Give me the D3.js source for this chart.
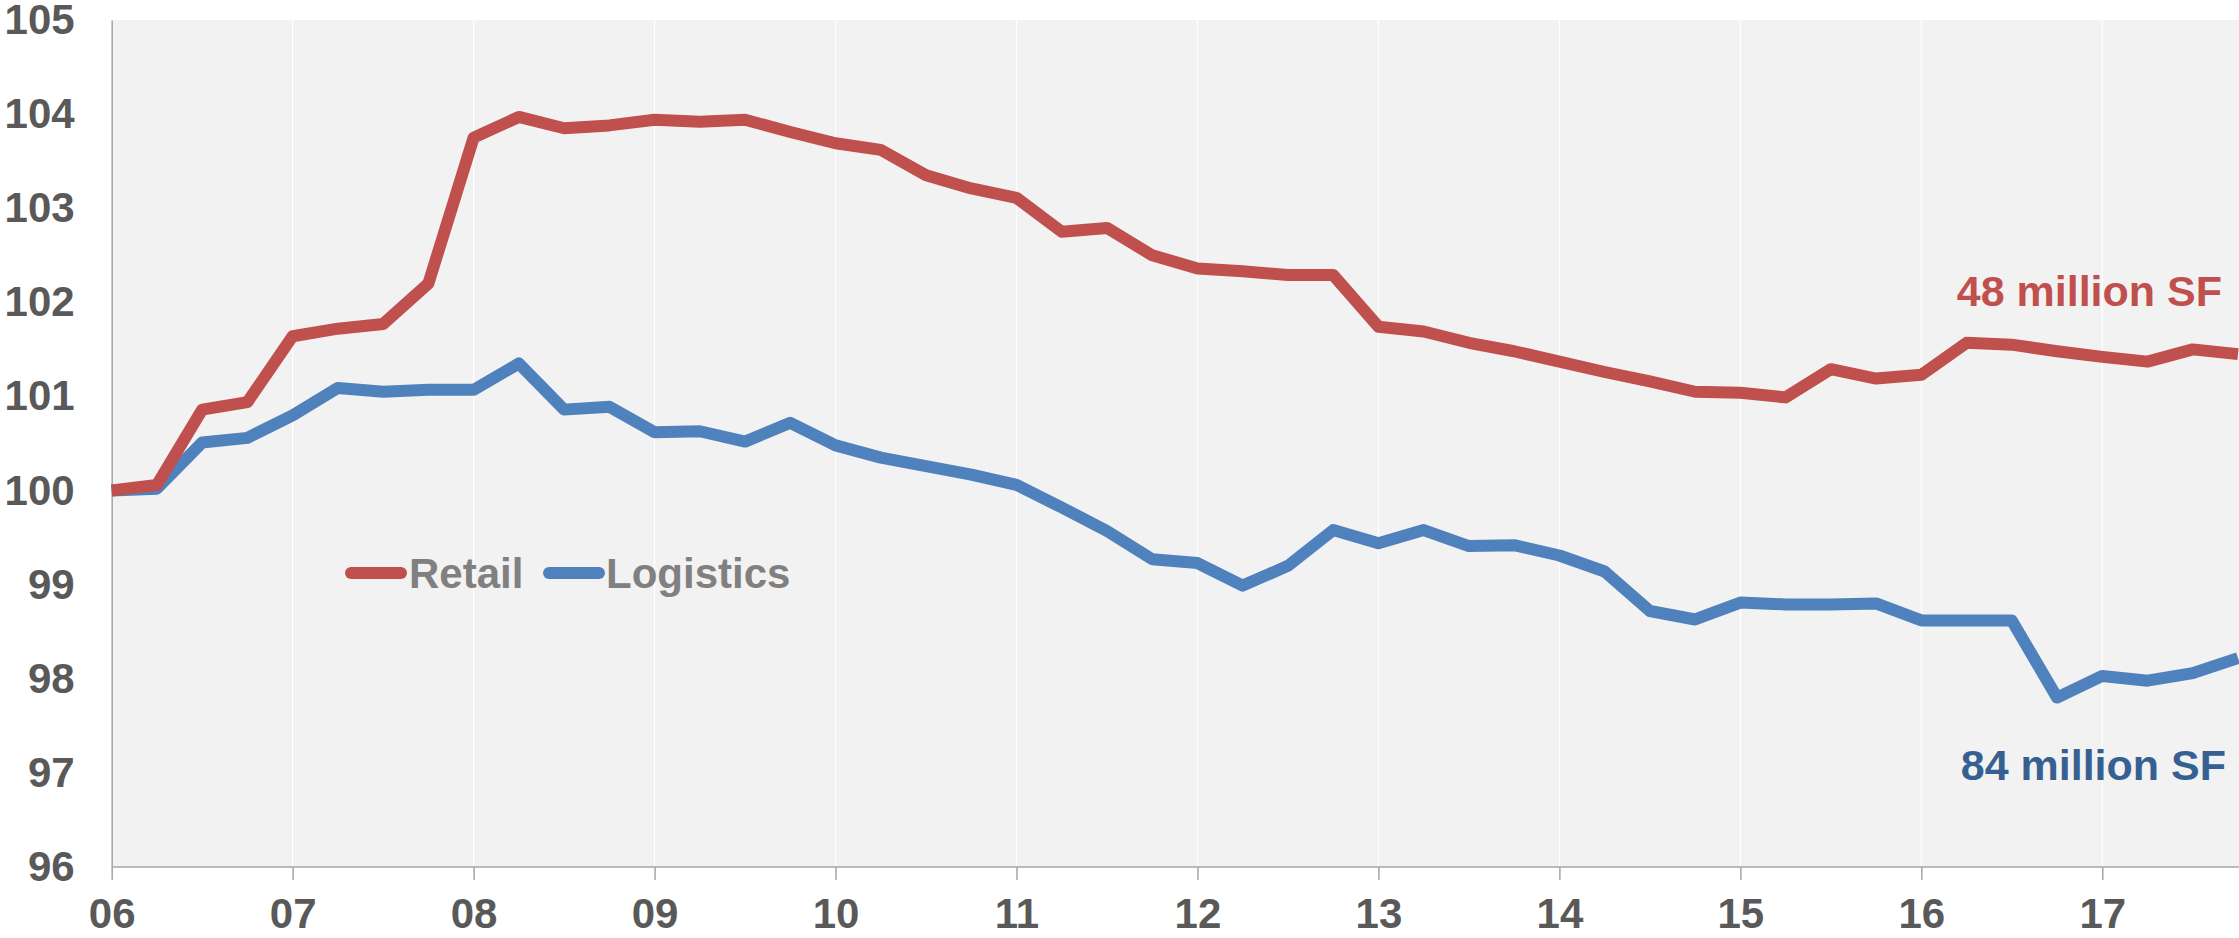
<!DOCTYPE html>
<html>
<head>
<meta charset="utf-8">
<script src="https://cdn.jsdelivr.net/npm/d3@7"></script>
<style>
  html, body { margin: 0; padding: 0; background: #fff; }
  svg { display: block; font-family: "Liberation Sans", Arial, sans-serif; font-weight: bold; }
</style>
</head>
<body>
<script>
// quarterly index, 2006 Q1 .. 2017 Q4
const startYear = 2006;
const yearLabels = ["06", "07", "08", "09", "10", "11", "12", "13", "14", "15", "16", "17"];
const yTicks = [96, 97, 98, 99, 100, 101, 102, 103, 104, 105];

const retail = [
  100.00, 100.06, 100.86, 100.94, 101.64, 101.72, 101.77, 102.20,
  103.75, 103.97, 103.85, 103.88, 103.94, 103.92, 103.94, 103.81,
  103.69, 103.62, 103.35, 103.21, 103.11, 102.75, 102.79, 102.50,
  102.36, 102.33, 102.29, 102.29, 101.74, 101.69, 101.57, 101.48,
  101.37, 101.26, 101.16, 101.05, 101.04, 100.99, 101.29, 101.19,
  101.23, 101.57, 101.55, 101.48, 101.42, 101.37, 101.50, 101.45
];
const logistics = [
  100.00, 100.02, 100.51, 100.56, 100.80, 101.09, 101.05, 101.07,
  101.07, 101.35, 100.86, 100.89, 100.62, 100.63, 100.52, 100.72,
  100.48, 100.35, 100.26, 100.17, 100.06, 99.82, 99.57, 99.27,
  99.23, 98.99, 99.20, 99.58, 99.44, 99.58, 99.41, 99.42,
  99.31, 99.14, 98.72, 98.63, 98.81, 98.79, 98.79, 98.80,
  98.62, 98.62, 98.62, 97.80, 98.03, 97.98, 98.06, 98.22
];

const W = 2239, H = 938;
const plotLeft = 111.7, plotTop = 20, plotRight = 2238, plotBottom = 867;

const svg = d3.select("body").append("svg")
    .attr("width", W)
    .attr("height", H);

const x = d3.scaleLinear()
    .domain([startYear, startYear + (retail.length - 1) / 4])
    .range([plotLeft, plotRight]);

const y = d3.scaleLinear()
    .domain([96, 105])
    .range([plotBottom, plotTop]);

// plot background
svg.append("rect")
    .attr("x", plotLeft).attr("y", plotTop)
    .attr("width", W - plotLeft).attr("height", plotBottom - plotTop)
    .attr("fill", "#f2f2f2");

// vertical white gridlines
const yearVals = yearLabels.map((_, i) => startYear + i);
svg.append("g").selectAll("line")
    .data(yearVals.slice(1))
    .join("line")
    .attr("x1", d => x(d)).attr("x2", d => x(d))
    .attr("y1", plotTop).attr("y2", plotBottom)
    .attr("stroke", "#fff")
    .attr("stroke-width", 1.2);

// x axis
const xAxis = svg.append("g")
    .attr("transform", `translate(0,${plotBottom})`)
    .call(d3.axisBottom(x)
        .tickValues(yearVals)
        .tickFormat((d, i) => yearLabels[i])
        .tickSize(13)
        .tickPadding(18));
xAxis.select(".domain").attr("stroke", "#a6a6a6").attr("stroke-width", 1.5)
    .attr("d", `M${plotLeft},0H${W}`);
xAxis.selectAll(".tick line").attr("stroke", "#a6a6a6").attr("stroke-width", 1.5);
xAxis.selectAll(".tick text")
    .attr("fill", "#595959")
    .style("font-size", "42px")
    .style("font-family", "'Liberation Sans', Arial, sans-serif")
    .style("font-weight", "bold");

// y axis
const yAxis = svg.append("g")
    .attr("transform", `translate(${plotLeft},0)`)
    .call(d3.axisLeft(y)
        .tickValues(yTicks)
        .tickSize(0)
        .tickPadding(37));
yAxis.select(".domain").attr("stroke", "#a6a6a6").attr("stroke-width", 1.5);
yAxis.selectAll(".tick text")
    .attr("fill", "#595959")
    .style("font-size", "42px")
    .style("font-family", "'Liberation Sans', Arial, sans-serif")
    .style("font-weight", "bold");

// lines
const line = d3.line()
    .x((d, i) => x(startYear + i / 4))
    .y(d => y(d));

const series = [
  { name: "Retail", values: retail, color: "#c0504d" },
  { name: "Logistics", values: logistics, color: "#4f81bd" }
];

svg.append("g").selectAll("path")
    .data(series.slice().reverse())
    .join("path")
    .attr("d", d => line(d.values))
    .attr("fill", "none")
    .attr("stroke", d => d.color)
    .attr("stroke-width", 12)
    .attr("stroke-linejoin", "round");

// legend
const legendItems = [
  { x0: 351, x1: 401, tx: 409 },
  { x0: 549, x1: 599, tx: 606 }
];
const legend = svg.append("g");
legend.selectAll("line")
    .data(series)
    .join("line")
    .attr("x1", (d, i) => legendItems[i].x0)
    .attr("x2", (d, i) => legendItems[i].x1)
    .attr("y1", 573).attr("y2", 573)
    .attr("stroke", d => d.color)
    .attr("stroke-width", 12)
    .attr("stroke-linecap", "round");
legend.selectAll("text")
    .data(series)
    .join("text")
    .attr("x", (d, i) => legendItems[i].tx)
    .attr("y", 588)
    .attr("fill", "#808080")
    .style("font-size", "42px")
    .text(d => d.name);

// end labels
svg.append("text")
    .attr("x", 2222).attr("y", 306)
    .attr("text-anchor", "end")
    .attr("fill", "#c0504d")
    .style("font-size", "43px")
    .text("48 million SF");

svg.append("text")
    .attr("x", 2226).attr("y", 780)
    .attr("text-anchor", "end")
    .attr("fill", "#376092")
    .style("font-size", "43px")
    .text("84 million SF");
</script>
</body>
</html>
